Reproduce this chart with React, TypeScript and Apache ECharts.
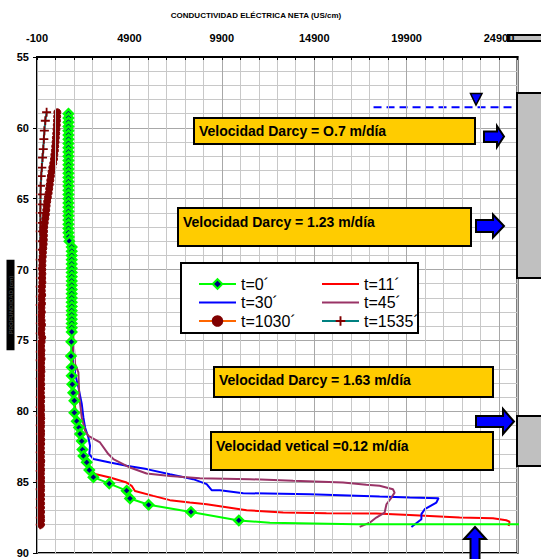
import React, { useEffect, useRef } from 'react';
import * as echarts from 'echarts';

const FONT = '"Liberation Sans", Arial, Helvetica, sans-serif';

const xAxisMin = -100;
const xAxisMax = 25900;
const xMajorStep = 5000;
const xMinorStep = 1000;
const yAxisMin = 55;
const yAxisMax = 90;
const yMajorStep = 5;

const xTitle = 'CONDUCTIVIDAD ELÉCTRICA NETA (US/cm)';
const yTitle = 'PROFUNDIDAD (cm)';

const names = ['t=0´', 't=11´', 't=30´', 't=45´', 't=1030´', 't=1535´'];

// [conductividad, profundidad]
const t0Marked = [
  [1600, 59.0], [1600, 59.3], [1600, 59.6], [1600, 59.9], [1600, 60.2], [1600, 60.5], [1600, 60.8], [1600, 61.1],
  [1600, 61.4], [1600, 61.7], [1600, 62.0], [1600, 62.3], [1600, 62.6], [1600, 62.9], [1600, 63.2], [1600, 63.5],
  [1600, 63.8], [1600, 64.1], [1600, 64.4], [1600, 64.7], [1600, 65.0], [1600, 65.3], [1600, 65.6], [1600, 65.9],
  [1600, 66.2], [1600, 66.5], [1600, 66.8], [1600, 67.1], [1600, 67.4], [1620, 67.7], [1650, 68.0],
  [1780, 68.4], [1780, 68.7], [1780, 69.0], [1780, 69.3], [1780, 69.6], [1780, 69.9], [1780, 70.2], [1780, 70.5],
  [1780, 70.8], [1780, 71.1], [1780, 71.4], [1780, 71.7], [1780, 72.0], [1780, 72.3], [1780, 72.6], [1780, 72.9],
  [1780, 73.2], [1780, 73.5], [1780, 73.8], [1780, 74.1], [1780, 74.4], [1760, 75.1],
  [1740, 76.1], [1780, 76.9], [1780, 77.5], [1810, 78.1], [1860, 78.7], [1920, 79.25], [1920, 80.1], [2050, 80.7],
  [2170, 81.15], [2230, 81.6], [2320, 82.1], [2360, 82.7], [2410, 83.15], [2590, 83.6], [2730, 84.15], [2950, 84.65],
  [3810, 85.1], [4750, 85.6], [4930, 86.15], [5940, 86.6], [8230, 87.1], [10820, 87.7],
];
const t0Tail = [[12500, 87.86], [17180, 87.97], [26100, 87.97]];

const t11 = [
  [1650, 59.0], [1650, 68.0], [1800, 68.4], [1800, 75.0], [1850, 77.0], [1900, 79.0], [2050, 80.7], [2250, 81.8],
  [2450, 83.0], [2650, 83.8], [3040, 84.43], [3850, 84.67], [4750, 85.03], [5020, 85.26], [5200, 85.62],
  [6190, 85.97], [7090, 86.27], [8170, 86.44], [9080, 86.56], [10340, 86.8], [11240, 86.98], [13220, 87.15],
  [15560, 87.19], [18260, 87.22], [20060, 87.31], [22770, 87.5], [24570, 87.55], [25290, 87.69], [25470, 87.79],
  [25420, 88.09],
];

const t30 = [
  [1700, 59.0], [1700, 68.0], [1850, 68.4], [1850, 75.0], [1960, 77.36], [2140, 78.31], [2320, 79.46],
  [2410, 80.43], [2500, 81.14], [2680, 81.85], [2770, 82.43], [2730, 83.02], [2950, 83.37], [3850, 83.62],
  [4750, 83.85], [5830, 84.08], [7090, 84.44], [8350, 84.79], [9080, 85.14], [9350, 85.57], [9800, 85.57],
  [11060, 85.78], [14660, 85.85], [18440, 86.02], [20060, 86.09], [21630, 86.13], [21510, 86.44], [20880, 86.91],
  [20700, 87.26], [20700, 87.62], [20160, 88.16],
];

const t45 = [
  [1700, 59.0], [1700, 68.0], [1850, 68.4], [1900, 75.5], [1960, 76.66], [2140, 77.25], [2190, 79.02],
  [2320, 80.43], [2500, 81.37], [2680, 81.73], [3310, 82.2], [3760, 83.02], [4030, 83.37], [4930, 83.97],
  [5830, 84.39], [7090, 84.56], [8710, 84.72], [11420, 84.79], [13760, 84.91], [16460, 85.03], [17720, 85.19],
  [18440, 85.26], [19160, 85.5], [19250, 85.74], [19080, 86.09], [18810, 86.56], [18710, 87.15], [18260, 87.5],
  [17900, 87.86], [17360, 88.16],
];

const t1030 = [
  [1000, 58.9], [990, 59.2], [980, 59.5], [970, 59.8], [955, 60.1], [940, 60.4], [920, 60.7], [905, 61.0],
  [885, 61.3], [870, 61.6], [840, 61.9], [820, 62.2], [780, 62.5], [730, 62.8], [690, 63.1], [650, 63.4],
  [620, 63.7], [590, 64.0], [560, 64.3], [530, 64.6], [490, 64.9], [450, 65.2], [420, 65.5], [400, 65.8],
  [380, 66.1], [350, 66.4], [320, 66.7], [290, 67.0], [280, 67.3], [275, 67.6], [270, 67.9], [260, 68.2],
  [240, 68.5], [220, 68.8], [210, 69.1], [195, 69.4], [190, 69.7], [185, 70.0], [190, 70.3], [180, 70.6],
  [190, 70.9], [170, 71.2], [160, 71.5], [180, 71.8], [150, 72.1], [170, 72.4], [140, 72.7], [160, 73.0],
  [130, 73.3], [150, 73.6], [170, 73.9], [140, 74.2], [130, 74.5], [180, 74.8], [150, 75.1], [120, 75.4],
  [140, 75.7], [130, 76.0], [150, 76.3], [120, 76.6], [130, 76.9], [140, 77.2], [120, 77.5], [110, 77.8],
  [130, 78.1], [120, 78.4], [110, 78.7], [130, 79.0], [120, 79.3], [110, 79.6], [120, 79.9], [110, 80.2],
  [130, 80.5], [120, 80.8], [110, 81.1], [120, 81.4], [110, 81.7], [130, 82.0], [120, 82.3], [110, 82.6],
  [120, 82.9], [110, 83.2], [130, 83.5], [110, 83.8], [120, 84.1], [110, 84.4], [120, 84.7], [110, 85.0],
  [120, 85.3], [110, 85.6], [120, 85.9], [110, 86.2], [120, 86.5], [110, 86.8], [120, 87.1], [110, 87.4],
  [120, 87.7], [110, 88.0],
];

const t1535 = [
  [420, 58.9], [350, 59.5], [300, 60.2], [270, 60.8], [240, 61.5], [200, 62.1], [160, 62.8], [130, 63.4],
  [100, 64.1], [90, 64.7], [85, 65.4], [80, 66.0], [85, 66.7], [75, 67.3], [80, 68.0], [85, 68.6], [75, 69.3],
  [80, 69.9], [85, 70.6], [75, 71.2], [80, 71.9], [75, 72.5], [85, 73.2], [80, 73.8], [75, 74.5], [85, 75.1],
  [80, 75.8], [75, 76.4], [80, 77.1], [75, 77.7], [85, 78.4], [80, 79.0], [75, 79.7], [80, 80.3], [75, 81.0],
  [85, 81.6], [80, 82.3], [75, 82.9], [80, 83.6], [75, 84.2], [80, 84.9], [75, 85.5], [80, 86.2], [75, 86.8],
  [80, 87.5], [75, 88.0],
];

const waterTable = [[18110, 58.54], [25900, 58.54]];

const shift = (p: number[]) => [p[0] - xAxisMin, p[1]];

const box = (x: number, y: number, w: number, h: number, text: string, tx: number, ty: number) => ({
  type: 'group',
  z: 30,
  children: [
    { type: 'rect', z: 30, shape: { x, y, width: w, height: h }, style: { fill: '#FFCC00', stroke: '#000', lineWidth: 2 } },
    {
      type: 'text', z: 31, x: tx, y: ty,
      style: { text, fill: '#000', fontSize: 14, fontWeight: 'bold', fontFamily: FONT, align: 'left', verticalAlign: 'middle' },
    },
  ],
});

const arrow = (points: number[][]) => ({
  type: 'polygon', z: 30, shape: { points }, style: { fill: '#0000FF', stroke: '#000', lineWidth: 2 },
});

const grayRect = (x: number, y: number, w: number, h: number, z = 30) => ({
  type: 'rect', z, shape: { x, y, width: w, height: h }, style: { fill: '#C0C0C0', stroke: '#000', lineWidth: 2 },
});

export default function App() {
  const ref = useRef<HTMLDivElement>(null);
  useEffect(() => {
    if (!ref.current) return;
    const chart = echarts.init(ref.current, undefined, { renderer: 'svg' });
    const plusPath = 'path://M4,0H6V4H10V6H6V10H4V6H0V4H4Z';
    const minorColors = ['#a8a8a8', '#c8c8c8', '#c8c8c8', '#c8c8c8', '#c8c8c8'];
    const legendText = { fontSize: 16, lineHeight: 16, color: '#000', fontFamily: FONT };
    const noSymbol = { color: 'rgba(0,0,0,0)', borderColor: 'rgba(0,0,0,0)', borderWidth: 0 };
    const option: any = {
      animation: false,
      backgroundColor: '#fff',
      textStyle: { fontFamily: FONT },
      grid: { left: 37, right: 23.5, top: 57, bottom: 6, show: true, borderColor: '#000', borderWidth: 2, backgroundColor: 'transparent' },
      xAxis: {
        type: 'value',
        position: 'top',
        min: 0,
        max: xAxisMax - xAxisMin,
        interval: xMinorStep,
        z: 5,
        axisLine: { show: true, onZero: false, lineStyle: { color: '#000', width: 2 } },
        axisTick: { show: true, inside: true, length: 3, lineStyle: { color: '#000', width: 1 } },
        axisLabel: {
          margin: 14,
          fontSize: 11,
          fontWeight: 'bold',
          color: '#000',
          fontFamily: FONT,
          formatter: (v: number) => (Math.round(v) % xMajorStep === 0 ? String(Math.round(v) + xAxisMin) : ''),
        },
        splitLine: { show: true, lineStyle: { color: minorColors, width: 1 } },
      },
      yAxis: {
        type: 'value',
        inverse: true,
        min: yAxisMin,
        max: yAxisMax,
        interval: yMajorStep,
        axisLine: { show: true, onZero: false, lineStyle: { color: '#000', width: 2 } },
        axisTick: { show: true, length: 4, lineStyle: { color: '#000', width: 1 } },
        minorTick: { show: false, splitNumber: 5 },
        minorSplitLine: { show: true, lineStyle: { color: '#c8c8c8', width: 1 } },
        axisLabel: { margin: 8, fontSize: 11, fontWeight: 'bold', color: '#000', fontFamily: FONT },
        splitLine: { show: true, lineStyle: { color: '#a8a8a8', width: 1 } },
      },
      legend: [
        {
          data: [names[0], { name: names[2], itemStyle: noSymbol }, names[4]], orient: 'vertical', left: 193, top: 271,
          itemWidth: 37, itemHeight: 12, itemGap: 2.5, selectedMode: false, z: 40, textStyle: legendText,
        },
        {
          data: [{ name: names[1], itemStyle: noSymbol }, { name: names[3], itemStyle: noSymbol }, names[5]],
          orient: 'vertical', left: 316, top: 271,
          itemWidth: 37, itemHeight: 12, itemGap: 2.5, selectedMode: false, z: 40, textStyle: legendText,
        },
      ],
      series: [
        {
          name: names[1], type: 'line', z: 2, symbol: 'none', data: t11.map(shift),
          lineStyle: { color: '#FF0000', width: 2 }, itemStyle: { color: '#FF0000' },
        },
        {
          name: names[2], type: 'line', z: 2, symbol: 'none', data: t30.map(shift),
          lineStyle: { color: '#0000FF', width: 2 }, itemStyle: { color: '#0000FF' },
        },
        {
          name: names[3], type: 'line', z: 2, symbol: 'none', data: t45.map(shift),
          lineStyle: { color: '#993366', width: 2 }, itemStyle: { color: '#993366' },
        },
        {
          name: names[5], type: 'line', z: 3, symbol: plusPath, symbolSize: 9, data: t1535.map(shift),
          lineStyle: { color: '#008080', width: 2 }, itemStyle: { color: '#800000' },
        },
        {
          name: names[4], type: 'line', z: 4, symbol: 'circle', symbolSize: 7, data: t1030.map(shift),
          lineStyle: { color: '#FF6600', width: 2 }, itemStyle: { color: '#800000', borderColor: '#800000', borderWidth: 1 },
        },
        {
          name: names[0], type: 'line', z: 5, symbol: 'diamond', symbolSize: 9, clip: false,
          data: [
            ...t0Marked.map(shift),
            ...t0Tail.map((p) => ({ value: shift(p), symbol: 'none' })),
          ],
          lineStyle: { color: '#00FF00', width: 2 },
          itemStyle: { color: '#000080', borderColor: '#00FF00', borderWidth: 2.5 },
        },
        {
          name: 'nivel', type: 'line', z: 3, symbol: 'none', data: waterTable.map(shift),
          lineStyle: { color: '#0000FF', width: 2, type: [8, 5] },
        },
      ],
      graphic: [
        grayRect(508, 35, 40, 6, -1),
        {
          type: 'text', x: 256, y: 15,
          style: { text: xTitle, fontSize: 8, fontWeight: 'bold', fontFamily: FONT, fill: '#000', align: 'center', verticalAlign: 'middle' },
        },
        {
          type: 'text', x: 10.5, y: 305, rotation: Math.PI / 2,
          style: {
            text: yTitle, fontSize: 6, fontWeight: 'bold', fontFamily: FONT, fill: '#3a3a3a',
            backgroundColor: '#000', padding: [1, 16], align: 'center', verticalAlign: 'middle',
          },
        },
        {
          type: 'rect', z: 20, shape: { x: 181, y: 263, width: 237, height: 70 },
          style: { fill: '#fff', stroke: '#000', lineWidth: 2 },
        },
        box(194, 118, 281, 26, 'Velocidad Darcy = O.7 m/día', 199, 131),
        box(178, 208, 293, 38, 'Velocidad Darcy = 1.23 m/día', 183, 222),
        box(214, 367, 279, 30, 'Velocidad Darcy = 1.63 m/día', 219, 380),
        box(211, 432, 282, 38, 'Velocidad vetical =0.12 m/día', 216, 446),
        grayRect(517, 93, 30, 185),
        grayRect(517, 416, 30, 50),
        arrow([[484, 131.5], [497, 131.5], [497, 126], [504, 136.5], [497, 147], [497, 142], [484, 142]]),
        arrow([[476, 220], [493, 220], [493, 214.5], [504, 226], [493, 237.5], [493, 232], [476, 232]]),
        arrow([[476, 416], [503, 416], [503, 409], [514, 421.5], [503, 434], [503, 427], [476, 427]]),
        arrow([[475, 527], [486, 539], [479.5, 539], [479.5, 561], [470.5, 561], [470.5, 539], [464, 539]]),
        {
          type: 'polygon', z: 30, shape: { points: [[470.5, 93.5], [482, 93.5], [476, 105]] },
          style: { fill: '#0000FF', stroke: '#000', lineWidth: 1.5 },
        },
      ],
    };
    chart.setOption(option);
    return () => chart.dispose();
  }, []);
  return <div ref={ref} style={{ position: 'fixed', left: 0, top: 0, width: 541, height: 559 }} />;
}
